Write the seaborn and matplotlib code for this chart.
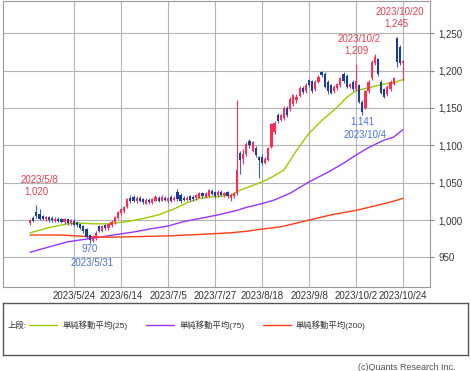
import pandas as pd
import matplotlib
matplotlib.use("Agg")
import matplotlib.pyplot as plt
import seaborn as sns
from matplotlib.lines import Line2D

#%% data

jp_holidays = ['2023-05-03', '2023-05-04', '2023-05-05', '2023-07-17',
               '2023-08-11', '2023-09-18', '2023-10-09']
dates = pd.bdate_range('2023-05-01', '2023-10-24', freq='C', holidays=jp_holidays)

opens = [996, 1003, 1011, 1008, 1005, 1001, 1004, 1003, 999, 1002,
         1002, 997, 1001, 996, 999, 997, 995, 992, 988, 980,
         972, 976, 992, 986, 993, 989, 993, 997, 1003, 1009,
         1012, 1018, 1030, 1031, 1025, 1030, 1028, 1022, 1027, 1023,
         1026, 1030, 1026, 1030, 1025, 1031, 1027, 1038, 1034, 1030,
         1027, 1032, 1031, 1029, 1030, 1036, 1031, 1032, 1039, 1037,
         1033, 1038, 1033, 1037, 1030, 1032, 1036, 1090, 1082, 1088,
         1106, 1093, 1097, 1084, 1084, 1077, 1081, 1098, 1118, 1140,
         1134, 1136, 1150, 1148, 1155, 1160, 1166, 1177, 1172, 1187,
         1186, 1175, 1185, 1198, 1196, 1185, 1180, 1172, 1176, 1180,
         1196, 1193, 1178, 1185, 1175, 1180, 1158, 1150, 1172, 1190,
         1210, 1215, 1185, 1175, 1168, 1175, 1182, 1243, 1232, 1210]
highs = [1002, 1005, 1020, 1015, 1007, 1006, 1006, 1005, 1004, 1004,
         1003, 1003, 1002, 1001, 1001, 998, 996, 993, 990, 982,
         980, 985, 994, 993, 995, 996, 1000, 1005, 1012, 1016,
         1019, 1030, 1033, 1034, 1032, 1032, 1030, 1029, 1029, 1030,
         1033, 1032, 1033, 1032, 1031, 1033, 1032, 1041, 1036, 1032,
         1032, 1034, 1033, 1035, 1038, 1038, 1038, 1042, 1041, 1039,
         1040, 1040, 1038, 1039, 1036, 1038, 1160, 1092, 1095, 1104,
         1108, 1106, 1099, 1086, 1088, 1084, 1098, 1130, 1133, 1143,
         1142, 1152, 1152, 1164, 1169, 1168, 1179, 1179, 1183, 1189,
         1188, 1187, 1194, 1200, 1198, 1187, 1182, 1180, 1184, 1192,
         1198, 1195, 1184, 1188, 1209, 1182, 1160, 1174, 1187, 1214,
         1222, 1217, 1187, 1177, 1180, 1187, 1192, 1245, 1234, 1214]
lows = [994, 997, 1003, 1000, 1000, 999, 998, 998, 997, 997,
        996, 995, 994, 994, 992, 991, 988, 983, 976, 970,
        971, 974, 984, 984, 987, 987, 991, 995, 1001, 1007,
        1010, 1016, 1023, 1024, 1023, 1024, 1022, 1021, 1022, 1021,
        1025, 1024, 1025, 1025, 1023, 1024, 1025, 1026, 1023, 1025,
        1025, 1025, 1026, 1027, 1029, 1030, 1030, 1031, 1033, 1030,
        1031, 1032, 1031, 1030, 1025, 1030, 1034, 1062, 1075, 1086,
        1096, 1091, 1085, 1056, 1073, 1075, 1079, 1096, 1115, 1130,
        1132, 1134, 1138, 1146, 1153, 1157, 1164, 1168, 1170, 1178,
        1170, 1173, 1183, 1191, 1176, 1169, 1168, 1170, 1174, 1178,
        1184, 1176, 1176, 1173, 1172, 1156, 1141, 1148, 1170, 1188,
        1208, 1193, 1168, 1163, 1166, 1173, 1180, 1205, 1208, 1186]
closes = [1000, 999, 1005, 1002, 1002, 1004, 1000, 1000, 1002, 999,
          998, 1001, 996, 1000, 994, 993, 990, 985, 978, 974,
          978, 983, 985, 992, 989, 995, 998, 1004, 1011, 1015,
          1018, 1028, 1025, 1026, 1030, 1026, 1024, 1027, 1024, 1028,
          1031, 1026, 1031, 1027, 1030, 1026, 1030, 1028, 1025, 1027,
          1030, 1027, 1028, 1033, 1036, 1032, 1036, 1040, 1035, 1032,
          1038, 1034, 1036, 1032, 1034, 1036, 1067, 1080, 1089, 1102,
          1100, 1104, 1087, 1080, 1076, 1082, 1096, 1128, 1130, 1133,
          1140, 1150, 1140, 1162, 1167, 1165, 1177, 1171, 1180, 1180,
          1172, 1185, 1192, 1194, 1178, 1172, 1170, 1178, 1182, 1190,
          1186, 1178, 1182, 1175, 1186, 1158, 1145, 1172, 1185, 1212,
          1218, 1195, 1170, 1165, 1178, 1185, 1190, 1211, 1210, 1213]

# moving averages, read at a handful of trading-day positions
ma25_pos = [0, 6, 12, 16, 20, 25, 31, 36, 41, 46, 50, 54, 58, 64, 67, 74, 77, 81, 85, 89, 93, 98, 101, 104, 107, 111, 113, 116, 119]
ma25 = [983, 990, 995, 996, 995, 995, 998, 1002, 1007, 1015, 1023, 1029, 1031, 1033, 1040, 1051, 1057, 1067, 1093, 1116, 1133, 1151, 1164, 1173, 1176, 1180, 1182, 1184, 1188]
ma75_pos = [0, 6, 12, 17, 22, 28, 33, 38, 44, 49, 54, 60, 66, 69, 74, 78, 83, 89, 95, 100, 104, 108, 113, 116, 119]
ma75 = [957, 964, 971, 974, 977, 981, 984, 988, 992, 998, 1002, 1007, 1013, 1017, 1022, 1027, 1036, 1051, 1064, 1076, 1087, 1097, 1107, 1111, 1121]
ma200_pos = [0, 10, 18, 25, 35, 45, 55, 64, 69, 74, 80, 89, 96, 104, 109, 114, 119]
ma200 = [980, 980, 978, 977, 978, 979, 981, 983, 985, 988, 991, 1000, 1007, 1013, 1018, 1023, 1029]

# marked highs / lows (trading-day position, price)
peak_pos = [2, 104, 117]
peak_val = [1020, 1209, 1245]
trough_pos = [19, 106]
trough_val = [970, 1141]

tick_pos = [14, 29, 44, 59, 74, 89, 104, 119]
y_ticks = [950, 1000, 1050, 1100, 1150, 1200, 1250]

ma_labels = ['単純移動平均(25)', '単純移動平均(75)', '単純移動平均(200)']

#%% styling

sns.set_style("white")
plt.rcParams['font.family'] = ['Liberation Sans', 'Noto Sans CJK JP', 'DejaVu Sans']

up_col = '#ff2d55'
dn_col = '#1c3d9e'
dn_wick = '#3b5fd0'
ma_cols = ['#99cc00', '#9933ff', '#ff3c14']
txt_col = '#333333'

W, H = 471, 371
fig = plt.figure(figsize=(W / 100, H / 100), dpi=100)
ax = fig.add_axes([3 / W, 1 - 287 / H, 427 / W, 286 / H])

#%% candles

x = list(range(len(opens)))
for i in x:
    o, h, l, c = opens[i], highs[i], lows[i], closes[i]
    up = c >= o
    ax.vlines(i, l, h, color=up_col if up else dn_wick, lw=0.8, zorder=3)
    ax.bar(i, max(abs(c - o), 0.8), bottom=min(o, c), width=0.7,
           color=up_col if up else dn_col, lw=0, zorder=4)

#%% moving averages

for pos, vals, col in zip([ma25_pos, ma75_pos, ma200_pos], [ma25, ma75, ma200], ma_cols):
    sns.lineplot(x=pos, y=vals, color=col, lw=1, ax=ax, zorder=2)

#%% annotations

def lab(i):
    d = dates[i]
    return f"{d.year}/{d.month}/{d.day}"

for p, v in zip(peak_pos, peak_val):
    ax.annotate(f"{v:,}", (p, v), xytext=(0, 9.5), textcoords='offset points',
                ha='center', va='center', fontsize=7, color='#e8404f')
    ax.annotate(lab(p), (p, v), xytext=(2, 18), textcoords='offset points',
                ha='center', va='center', fontsize=7, color='#e8404f')
for p, v in zip(trough_pos, trough_val):
    ax.annotate(f"{v:,}", (p, v), xytext=(0, -5), textcoords='offset points',
                ha='center', va='center', fontsize=7, color='#4a72e0')
    ax.annotate(lab(p), (p, v), xytext=(2, -15), textcoords='offset points',
                ha='center', va='center', fontsize=7, color='#4a72e0')

#%% axes

ax.set_xlim(-8.65, 127.6)
ax.set_ylim(910.5, 1293)
ax.set_xticks(tick_pos)
ax.set_xticklabels([lab(i) for i in tick_pos])
ax.yaxis.tick_right()
ax.set_yticks(y_ticks)
ax.set_yticklabels([f"{v:,}" for v in y_ticks])
ax.tick_params(axis='y', length=3, color='#888888', labelsize=7, labelcolor=txt_col, pad=3)
ax.tick_params(axis='x', length=0, labelsize=7, labelcolor=txt_col, pad=3)
ax.grid(True, color='#b4b4b4', lw=0.8)
ax.set_axisbelow(True)
for s in ax.spines.values():
    s.set_color('#9a9a9a')
    s.set_linewidth(0.8)
ax.set_xlabel('')
ax.set_ylabel('')

#%% legend box

lg = fig.add_axes([3 / W, 1 - 355 / H, 465 / W, 52 / H])
lg.set_xticks([])
lg.set_yticks([])
for s in lg.spines.values():
    s.set_color('#555555')
    s.set_linewidth(1)
lg.text(5 / 465, 0.57, '上段:', fontsize=6, color=txt_col, va='center', ha='left',
        transform=lg.transAxes)
handles = [Line2D([], [], color=c, lw=1) for c in ma_cols]
lg.legend(handles, ma_labels, ncol=3, loc='center left', frameon=False,
          bbox_to_anchor=(26 / 465, 0.57), fontsize=6, handlelength=3.4,
          handletextpad=0.6, columnspacing=2.2, borderpad=0, borderaxespad=0,
          labelcolor=txt_col)

fig.text(455 / W, 1 - 368 / H, '(c)Quants Research Inc.', ha='right', va='center',
         fontsize=6.5, color='#555555')

fig.savefig('out.png', dpi=100)
